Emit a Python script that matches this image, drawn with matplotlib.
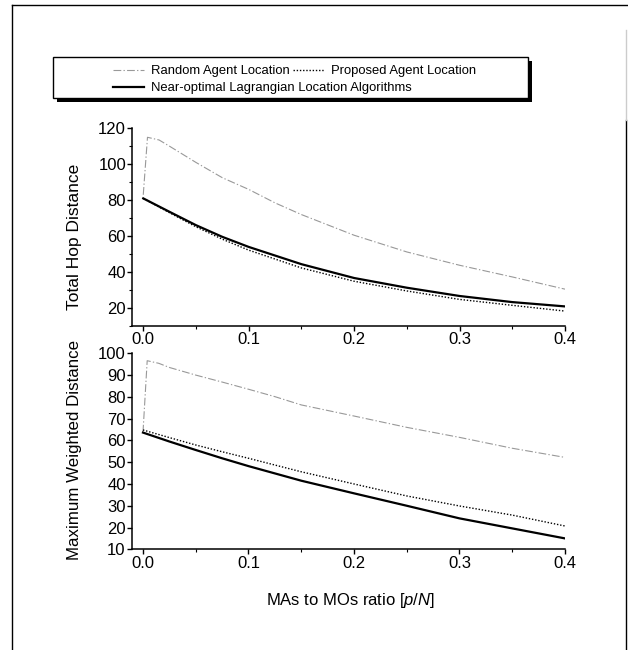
import matplotlib
matplotlib.use("Agg")
import matplotlib.pyplot as plt
from matplotlib.ticker import MultipleLocator
from matplotlib.patches import Rectangle
from matplotlib.lines import Line2D

plt.rcParams['font.family'] = ['Liberation Sans', 'DejaVu Sans']
plt.rcParams['mathtext.fontset'] = 'custom'
plt.rcParams['mathtext.rm'] = 'Liberation Sans'
plt.rcParams['mathtext.it'] = 'Liberation Sans:italic'

# ---------------- data ----------------
x_rand = [0.0, 0.004, 0.015, 0.025, 0.05, 0.075, 0.1, 0.125, 0.15, 0.2, 0.25, 0.3, 0.35, 0.4]
hop_random = [83, 115, 113.5, 110, 101, 92.5, 86, 78.5, 72, 60.5, 51.2, 43.8, 37.3, 30.5]
wd_random = [63.6, 96.6, 95.4, 93.5, 90, 86.8, 83.5, 80.1, 76.3, 71.2, 66.0, 61.4, 56.4, 52.2]

x_alg = [0.0, 0.025, 0.05, 0.075, 0.1, 0.15, 0.2, 0.25, 0.3, 0.35, 0.4]
hop_proposed = [81, 73, 65.2, 58.3, 52.2, 42.3, 34.9, 29.5, 24.8, 21.5, 18.3]
hop_optimal = [81, 73.5, 66.1, 59.6, 54.0, 44.4, 36.7, 31.3, 26.7, 23.3, 20.9]
wd_proposed = [64.8, 61.3, 57.9, 54.8, 51.8, 45.6, 40.0, 34.5, 29.9, 25.7, 20.7]
wd_optimal = [63.6, 59.5, 55.6, 51.8, 48.2, 41.5, 35.7, 30.0, 24.2, 19.6, 15.0]

labels = ["Random Agent Location", "Proposed Agent Location",
          "Near-optimal Lagrangian Location Algorithms"]
xlabel = "MAs to MOs ratio [$\\it{p/N}$]"
ylabels = ["Total Hop Distance", "Maximum Weighted Distance"]
xticks = [0.0, 0.1, 0.2, 0.3, 0.4]

# ---------------- layout ----------------
W, H = 628, 650
fig = plt.figure(figsize=(W / 100, H / 100), dpi=100)

def fx(px):
    return px / W

def fy(py):
    return 1 - py / H

ax1 = fig.add_axes([fx(132.3), fy(326), fx(565) - fx(132.3), fy(128.3) - fy(326)])
ax2 = fig.add_axes([fx(132.0), fy(549.3), fx(565) - fx(132.0), fy(353.3) - fy(549.3)])

rand_style = dict(color='#999999', lw=0.8, ls=(0, (7, 2, 1.2, 2)))
prop_style = dict(color='black', lw=1.0, ls=(0, (1, 1.3)))
opt_style = dict(color='black', lw=1.6, ls='-')

h_r, = ax1.plot(x_rand, hop_random, **rand_style)
h_p, = ax1.plot(x_alg, hop_proposed, **prop_style)
h_o, = ax1.plot(x_alg, hop_optimal, **opt_style)

ax2.plot(x_rand, wd_random, **rand_style)
ax2.plot(x_alg, wd_proposed, **prop_style)
ax2.plot(x_alg, wd_optimal, **opt_style)

for ax in (ax1, ax2):
    ax.set_xlim(-0.0104, 0.4)
    ax.set_xticks(xticks)
    ax.set_xticklabels([f"{t:.1f}" for t in xticks])
    ax.xaxis.set_minor_locator(MultipleLocator(0.05))
    for s in ('top', 'right'):
        ax.spines[s].set_visible(False)
    for s in ('left', 'bottom'):
        ax.spines[s].set_linewidth(1.1)
    ax.tick_params(axis='both', which='major', direction='out', length=3.5,
                   width=1.0, labelsize=12, pad=1)
    ax.tick_params(axis='both', which='minor', direction='out', length=2,
                   width=0.8)
    ax.set_facecolor('none')

ax1.set_ylim(10, 120)
ax1.set_yticks([20, 40, 60, 80, 100, 120])
ax1.yaxis.set_minor_locator(MultipleLocator(10))
ax2.set_ylim(10, 100)
ax2.set_yticks(list(range(10, 101, 10)))

fig.text(fx(75), fy(237), ylabels[0], rotation=90, ha='center', va='center', fontsize=12.5)
fig.text(fx(75), fy(450), ylabels[1], rotation=90, ha='center', va='center', fontsize=12.2)
fig.text(fx(350), fy(601), xlabel, ha='center', va='center', fontsize=12)

# legend box with shadow
bx0, by0, bx1, by1 = 53, 57, 528, 98
fig.patches.append(Rectangle((fx(bx0 + 4), fy(by1 + 4)), fx(bx1) - fx(bx0), fy(by0) - fy(by1),
                             transform=fig.transFigure, facecolor='black',
                             edgecolor='black', lw=0, zorder=1))
fig.patches.append(Rectangle((fx(bx0), fy(by1)), fx(bx1) - fx(bx0), fy(by0) - fy(by1),
                             transform=fig.transFigure, facecolor='white',
                             edgecolor='black', lw=1.0, zorder=2))

leg_kw = dict(loc='upper left', frameon=False, fontsize=9.4, handlelength=2.4,
              handletextpad=0.5, columnspacing=0.25, borderpad=0.2)
leg1 = fig.legend([h_r, h_p], [labels[0], labels[1]], ncol=2,
                  bbox_to_anchor=(fx(104), fy(56)), **leg_kw)
leg1.set_zorder(3)
leg2 = fig.legend([h_o], [labels[2]], ncol=1,
                  bbox_to_anchor=(fx(104), fy(73)), **leg_kw)
leg2.set_zorder(3)

# outer frame
fig.lines.append(Line2D([fx(12), fx(12)], [fy(650), fy(5)], transform=fig.transFigure, color='black', lw=1.0))
fig.lines.append(Line2D([fx(12), fx(628)], [fy(5), fy(5)], transform=fig.transFigure, color='black', lw=1.0))
fig.lines.append(Line2D([fx(626), fx(626)], [fy(650), fy(120)], transform=fig.transFigure, color='black', lw=1.0))
fig.lines.append(Line2D([fx(626), fx(626)], [fy(120), fy(30)], transform=fig.transFigure, color='#cccccc', lw=1.0))

fig.savefig("out.png", dpi=100)
